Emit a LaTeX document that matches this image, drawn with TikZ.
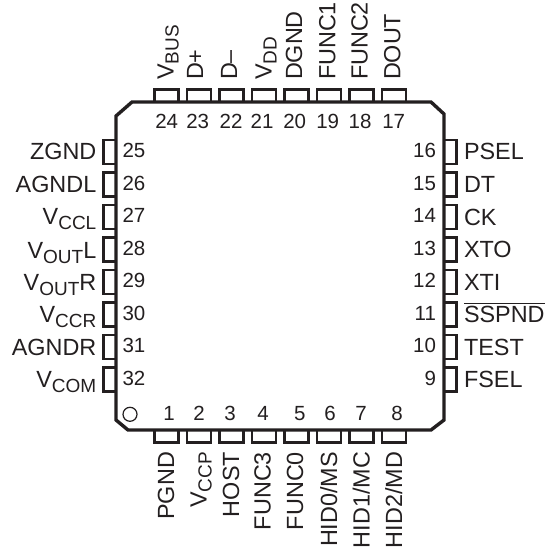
\documentclass[tikz,border=0pt]{standalone}
\usepackage{fontspec}
\setmainfont{Liberation Sans}
\definecolor{ink}{HTML}{231F20}
\newcommand{\Vs}[2]{V\raisebox{-5bp}{\fontsize{19bp}{19bp}\selectfont #1}#2}
\newcommand{\barred}[1]{\leavevmode\vbox{\offinterlineskip\hrule height 1.3bp\kern 2bp\hbox{#1}}}
\tikzset{
  pinh/.style={draw=ink,line width=2.2bp,fill=white,minimum width=13bp,minimum height=24bp,inner sep=0pt,outer sep=0pt},
  pinv/.style={draw=ink,line width=2.2bp,fill=white,minimum width=24bp,minimum height=13bp,inner sep=0pt,outer sep=0pt},
  body/.style={draw=ink,line width=3.4bp,line join=miter},
  numtxt/.style={text=ink,inner sep=0pt,outer sep=0pt,font=\fontsize{20.5bp}{20.5bp}\selectfont},
  pintxt/.style={text=ink,inner sep=0pt,outer sep=0pt,font=\fontsize{23.4bp}{23.4bp}\selectfont},
}
\begin{document}
\begin{tikzpicture}[x=1bp,y=-1bp]
\useasboundingbox (0,0) rectangle (554,550);
% pins, top
\foreach \n/\x in {24/166.5,23/199,22/231.5,21/264,20/296.5,19/329,18/361.5,17/394}
  \node[pinv] (p\n) at (\x,96) {};
% pins, bottom
\foreach \n/\x in {1/166.5,2/199,3/231.5,4/264,5/296.5,6/329,7/361.5,8/394}
  \node[pinv] (p\n) at (\x,436) {};
% pins, left
\foreach \n/\y in {25/152,26/184.5,27/217,28/249.5,29/282,30/314.5,31/347,32/379.5}
  \node[pinh] (p\n) at (110,\y) {};
% pins, right
\foreach \n/\y in {16/152,15/184.5,14/217,13/249.5,12/282,11/314.5,10/347,9/379.5}
  \node[pinh] (p\n) at (450,\y) {};
% package outline
\draw[body,fill=white] (132,102) -- (431,102) -- (444,114) -- (444,420) -- (431,430)
  -- (128,430) -- (116,420) -- (116,116) -- cycle;
\node[draw=ink,line width=1.2bp,circle,minimum size=14bp,inner sep=0pt] (dot) at (130,414.3) {};
% numbers
\foreach \n/\x in {24/166.7,23/197.7,22/231,21/262,20/294.7,19/327.7,18/360,17/393.7}
  \node[numtxt,anchor=base] (n\n) at (\x,129) {\n};
\foreach \n/\x in {1/169,2/199,3/230,4/263,5/299.7,6/330,7/361,8/397}
  \node[numtxt,anchor=base] (n\n) at (\x,420.7) {\n};
\foreach \n/\y in {25/157.7,26/190.2,27/222.7,28/255.2,29/287.7,30/320.2,31/352.7,32/385.2}
  \node[numtxt,anchor=base west] (n\n) at (122.5,\y) {\n};
\foreach \n/\y in {16/157.7,15/190.2,14/222.7,13/255.2,12/287.7,11/320.2,10/352.7,9/385.2}
  \node[numtxt,anchor=base east] (n\n) at (436,\y) {\n};
% left labels
\foreach \t/\y [count=\i] in {ZGND/160,AGNDL/192.5,\Vs{CCL}{}/224,\Vs{OUT}{L}/258,\Vs{OUT}{R}/290,\Vs{CCR}{}/322.5,AGNDR/355.5,\Vs{COM}{}/387}
  \node[pintxt,anchor=base east] (ll\i) at (96.3,\y) {\t};
% right labels
\foreach \t/\y [count=\i] in {PSEL/160,DT/192.5,CK/225,XTO/257.5,XTI/290,\barred{SSPND}/322.5,TEST/355,FSEL/387.5}
  \node[pintxt,anchor=base west] (rl\i) at (464,\y) {\t};
% top labels
\foreach \t/\x [count=\i] in {\Vs{BUS}{}/173.5,D+/203,D--/237,\Vs{DD}{}/271.5,DGND/302,FUNC1/335.3,FUNC2/367.7,DOUT/400.3}
  \node[pintxt,rotate=90,anchor=base west] (tl\i) at (\x,80) {\t};
% bottom labels
\foreach \t/\x [count=\i] in {PGND/174,\Vs{CCP}{}/206.5,HOST/239,FUNC3/270.7,FUNC0/303,{HID0/MS}/337,{HID1/MC}/369.7,{HID2/MD}/402}
  \node[pintxt,rotate=90,anchor=base east] (bl\i) at (\x,452) {\t};
\end{tikzpicture}
\end{document}
